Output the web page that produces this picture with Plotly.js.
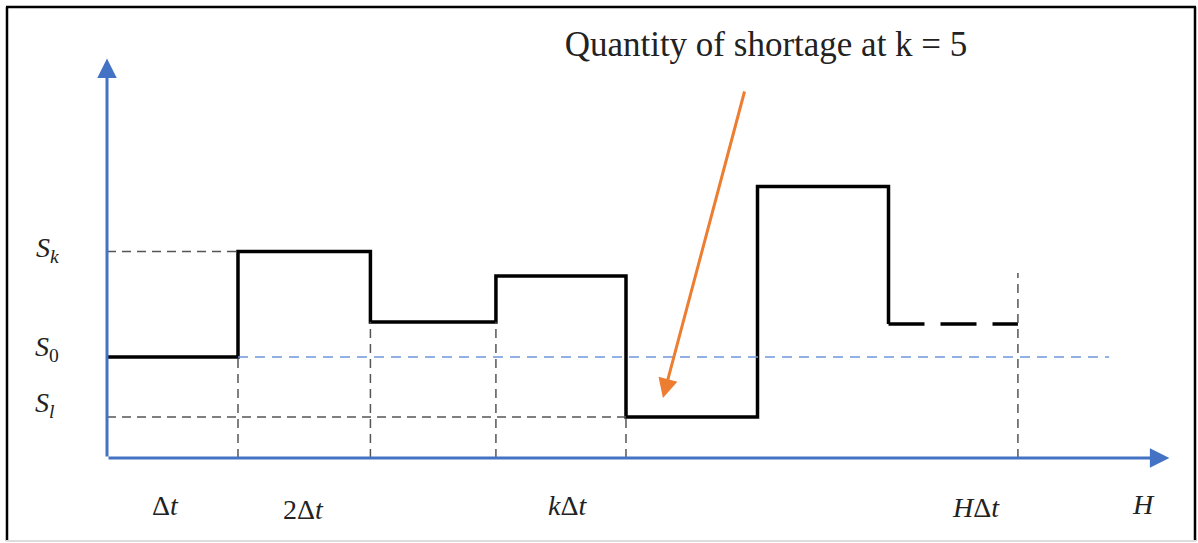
<!DOCTYPE html>
<html>
<head>
<meta charset="utf-8">
<script src="https://cdn.plot.ly/plotly-3.0.1.min.js"></script>
<style>html,body{margin:0;padding:0;background:#fff;}#chart{width:1198px;height:543px;}</style>
</head>
<body>
<div id="chart"></div>
<script>
// ---- data (time in units of Δt, stock level in arbitrary units) ----
const breakpoints = [0, 1.0, 2.011, 2.969, 3.962, 4.966, 5.966, 6.954];
const levels = [1.01, 2.065, 1.36, 1.82, 0.41, 2.715, 1.34];   // level over each interval
const S0 = 1.01, Sk = 2.065, Sl = 0.41;
const horizonTop = 1.85;          // top of the dashed line at HΔt
const s0LineEnd = 7.65;           // end of the blue S0 reference line
const xTickLabels = ["Δ<i>t</i>", "2Δ<i>t</i>", "<i>k</i>Δ<i>t</i>", "<i>H</i>Δ<i>t</i>", "<i>H</i>"];
const yTickLabels = ["<i>S</i><sub><i>k</i></sub>", "<i>S</i><sub>0</sub>", "<i>S</i><sub><i>l</i></sub>"];
const titleText = "Quantity of shortage at k = 5";
const shortageArrowTail = [4.870, 3.68];
const shortageArrowTip = [4.244, 0.60];

// ---- geometry ----
const W = 1198, H = 543;
const M = {l: 107, r: 28, t: 58, b: 85};
const PW = W - M.l - M.r, PH = H - M.t - M.b;
const xMax = 8.115, yMax = 4.0;
const px = x => (x - M.l) / PW;              // page pixel -> paper x
const py = y => (H - M.b - y) / PH;          // page pixel -> paper y

const serif = "Liberation Serif, Times New Roman, serif";
const grey = "#555555";
const blue = "#4472C4";

const traces = [];
const nSolid = levels.length - 1;
// solid step line
traces.push({
  x: breakpoints.slice(0, nSolid + 1), y: levels.slice(0, nSolid).concat([levels[nSolid]]),
  mode: "lines", line: {shape: "hv", color: "#000", width: 3.5}, hoverinfo: "skip"
});
// dashed final step
traces.push({
  x: [breakpoints[nSolid], breakpoints[nSolid + 1]], y: [levels[nSolid], levels[nSolid]],
  mode: "lines", line: {color: "#000", width: 3.5, dash: "36px,16px"}, hoverinfo: "skip"
});
// grey dashed guides: Sk and Sl horizontals
traces.push({x: [0, breakpoints[1]], y: [Sk, Sk], mode: "lines",
  line: {color: grey, width: 1.5, dash: "9px,6px"}, hoverinfo: "skip"});
traces.push({x: [0, breakpoints[4]], y: [Sl, Sl], mode: "lines",
  line: {color: grey, width: 1.5, dash: "9px,6px"}, hoverinfo: "skip"});
// grey dashed verticals under the first boundaries
for (let i = 1; i <= 4; i++) {
  const top = Math.min(levels[i - 1], levels[i]);
  traces.push({x: [breakpoints[i], breakpoints[i]], y: [0, top], mode: "lines",
    line: {color: grey, width: 1.5, dash: "9px,6px"}, hoverinfo: "skip"});
}
// horizon vertical
traces.push({x: [breakpoints[7], breakpoints[7]], y: [0, horizonTop], mode: "lines",
  line: {color: grey, width: 1.5, dash: "9px,6px"}, hoverinfo: "skip"});
// blue S0 reference
traces.push({x: [breakpoints[1], s0LineEnd], y: [S0, S0], mode: "lines",
  line: {color: "#6f97dd", width: 1.5, dash: "10px,7px"}, hoverinfo: "skip"});

const annotations = [];
// axes arrows
annotations.push({x: 0, y: yMax - 0.005, ax: 0, ay: 0, axref: "x", ayref: "y", xref: "x", yref: "y",
  text: "", showarrow: true, arrowhead: 2, arrowsize: 1.3, arrowwidth: 3, arrowcolor: blue, standoff: 0});
annotations.push({x: xMax - 0.005, y: 0, ax: 0, ay: 0, axref: "x", ayref: "y", xref: "x", yref: "y",
  text: "", showarrow: true, arrowhead: 2, arrowsize: 1.3, arrowwidth: 3, arrowcolor: blue, standoff: 0});
// shortage arrow
annotations.push({x: shortageArrowTip[0], y: shortageArrowTip[1], ax: shortageArrowTail[0], ay: shortageArrowTail[1],
  axref: "x", ayref: "y", xref: "x", yref: "y", text: "", showarrow: true, arrowhead: 2, arrowsize: 1.3,
  arrowwidth: 3, arrowcolor: "#ED7D31", standoff: 0});
// x labels
const xLabelPos = [[165, 505], [303, 510], [567, 505], [976, 507], [1143, 504]];
xTickLabels.forEach((t, i) => annotations.push({
  x: px(xLabelPos[i][0]), y: py(xLabelPos[i][1]), xref: "paper", yref: "paper", text: t, showarrow: false,
  xanchor: "center", yanchor: "middle", font: {family: serif, size: 28, color: "#222"}}));
// y labels
const yLabelPos = [[47, 249], [47, 348], [45, 404]];
yTickLabels.forEach((t, i) => annotations.push({
  x: px(yLabelPos[i][0]), y: py(yLabelPos[i][1]), xref: "paper", yref: "paper", text: t, showarrow: false,
  xanchor: "center", yanchor: "middle", font: {family: serif, size: 28, color: "#222"}}));

const shapes = [
  {type: "line", xref: "paper", yref: "paper", x0: px(7), x1: px(7), y0: py(541), y1: py(7), line: {color: "#000", width: 2.5}},
  {type: "line", xref: "paper", yref: "paper", x0: px(6), x1: px(1196), y0: py(7), y1: py(7), line: {color: "#000", width: 2.5}},
  {type: "line", xref: "paper", yref: "paper", x0: px(1195), x1: px(1195), y0: py(541), y1: py(7), line: {color: "#000", width: 2.5}},
  {type: "line", xref: "paper", yref: "paper", x0: px(6), x1: px(1196), y0: py(541), y1: py(541), line: {color: "#dddddd", width: 2}}
];

const layout = {
  width: W, height: H, margin: M, showlegend: false,
  paper_bgcolor: "#fff", plot_bgcolor: "#fff",
  title: {text: titleText, x: 766 / W, xanchor: "center", xref: "container", y: 1 - 44 / H, yanchor: "middle",
    font: {family: "Liberation Serif, serif", size: 35, color: "#222"}},
  xaxis: {range: [0, xMax], showgrid: false, zeroline: false, showticklabels: false, showline: false, ticks: "", fixedrange: true},
  yaxis: {range: [0, yMax], showgrid: false, zeroline: false, showticklabels: false, showline: false, ticks: "", fixedrange: true},
  annotations: annotations, shapes: shapes
};
Plotly.newPlot("chart", traces, layout, {displayModeBar: false, staticPlot: true});
</script>
</body>
</html>
